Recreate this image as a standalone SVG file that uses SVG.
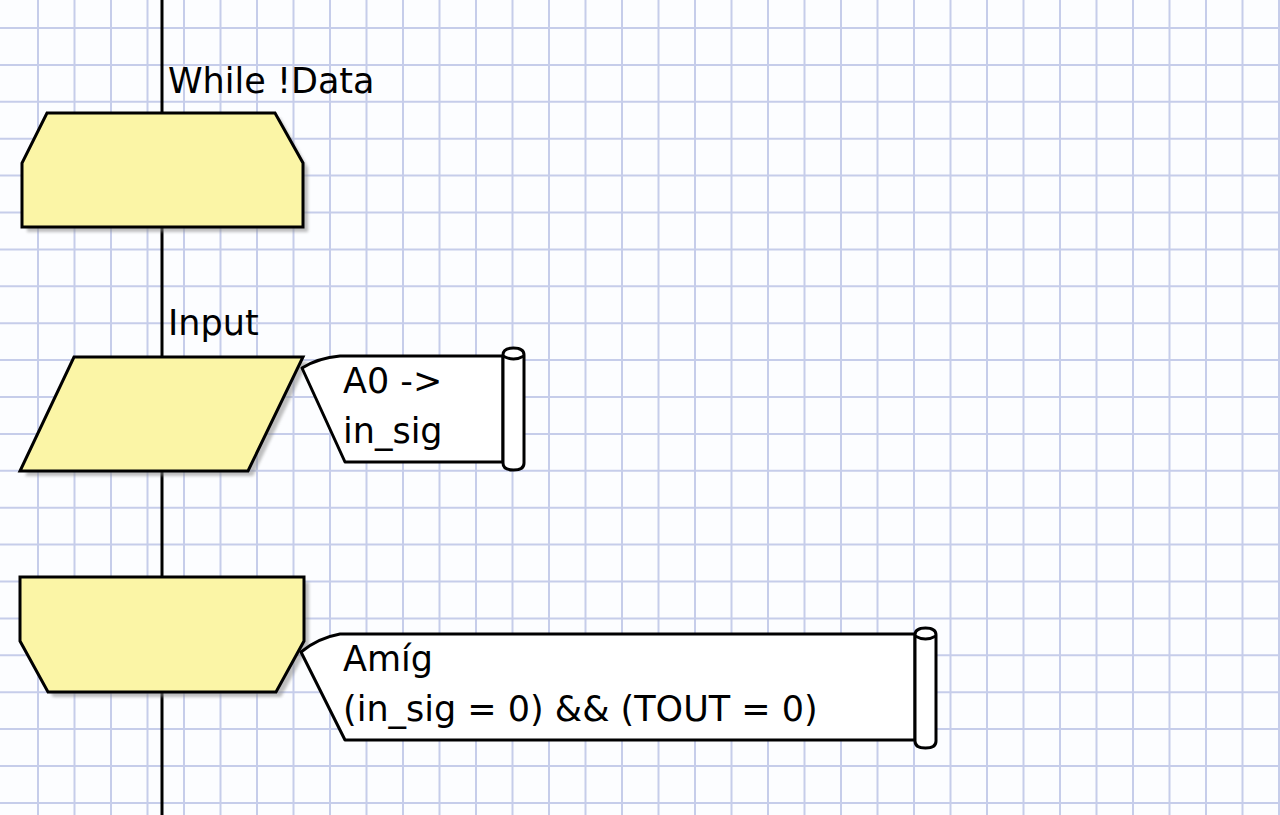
<svg xmlns="http://www.w3.org/2000/svg" width="1280" height="815" viewBox="0 0 1280 815">
<style>
.grid{stroke:#c6cdea;stroke-width:2;fill:none}
.shape{fill:#fbf5a6;stroke:#000;stroke-width:3;stroke-linejoin:miter}
.shadow{fill:#8a8a8a;opacity:0.55}
.call{fill:#fff;stroke:#000;stroke-width:3;stroke-linejoin:round}
.conn{stroke:#000;stroke-width:3;fill:none}
text{font-family:"DejaVu Sans","Liberation Sans",sans-serif;font-size:35px;fill:#000}
</style>
<defs>
<filter id="blur" x="-10%" y="-10%" width="120%" height="120%"><feGaussianBlur stdDeviation="1.5"/></filter>
</defs>
<rect x="0" y="0" width="1280" height="815" fill="#fcfdff"/>
<g id="grid">
<path class="grid" d="M38,0V815M74.5,0V815M111,0V815M147.5,0V815M184,0V815M220.5,0V815M257,0V815M293.5,0V815M330,0V815M366.5,0V815M403,0V815M439.5,0V815M476,0V815M512.5,0V815M549,0V815M585.5,0V815M622,0V815M658.5,0V815M695,0V815M731.5,0V815M768,0V815M804.5,0V815M841,0V815M877.5,0V815M914,0V815M950.5,0V815M987,0V815M1023.5,0V815M1060,0V815M1096.5,0V815M1133,0V815M1169.5,0V815M1206,0V815M1242.5,0V815M1279,0V815"/>
<path class="grid" d="M0,28H1280M0,64.9H1280M0,101.8H1280M0,138.7H1280M0,175.6H1280M0,212.5H1280M0,249.4H1280M0,286.3H1280M0,323.2H1280M0,360.1H1280M0,397H1280M0,433.9H1280M0,470.8H1280M0,507.7H1280M0,544.6H1280M0,581.5H1280M0,618.4H1280M0,655.3H1280M0,692.2H1280M0,729.1H1280M0,766H1280M0,802.9H1280"/>
</g>
<g id="connectors">
<line class="conn" x1="162" y1="0" x2="162" y2="113"/>
<line class="conn" x1="162" y1="227" x2="162" y2="357"/>
<line class="conn" x1="162" y1="471" x2="162" y2="577"/>
<line class="conn" x1="162" y1="692" x2="162" y2="815"/>
</g>
<g id="while-loop">
<polygon class="shadow" filter="url(#blur)" points="52,118 280,118 308,168 308,232 27,232 27,168"/>
<polygon class="shape" points="47,113 275,113 303,163 303,227 22,227 22,163"/>
<text x="168" y="93">While !Data</text>
</g>
<g id="input">
<polygon class="shadow" filter="url(#blur)" points="79,362 308,362 253,476 25,476"/>
<polygon class="shape" points="74,357 303,357 248,471 20,471"/>
<text x="168" y="335">Input</text>
</g>
<g id="input-comment">
<path class="call" d="M302,368 Q318,358 340,356 L503,356 L503,462 L345,462 Z"/>
<path class="call" d="M503,355 Q503,348 513.5,348 Q524,348 524,355 L524,463 Q524,470 513.5,470 Q503,470 503,463 Z"/>
<path class="call" d="M503,356 Q513.5,362 524,356"/>
<text x="343" y="393">A0 -&gt;</text>
<text x="343" y="443">in_sig</text>
</g>
<g id="decision">
<polygon class="shadow" filter="url(#blur)" points="25,582 309,582 309,646 281,697 53,697 25,646"/>
<polygon class="shape" points="20,577 304,577 304,641 276,692 48,692 20,641"/>
</g>
<g id="decision-comment">
<path class="call" d="M301,652 Q318,638 340,634 L915,634 L915,740 L345,740 Z"/>
<path class="call" d="M915,635 Q915,628 925.5,628 Q936,628 936,635 L936,741 Q936,748 925.5,748 Q915,748 915,741 Z"/>
<path class="call" d="M915,636 Q925.5,642 936,636"/>
<text x="343" y="671">Amíg</text>
<text x="343" y="721">(in_sig = 0) &amp;&amp; (TOUT = 0)</text>
</g>
</svg>
